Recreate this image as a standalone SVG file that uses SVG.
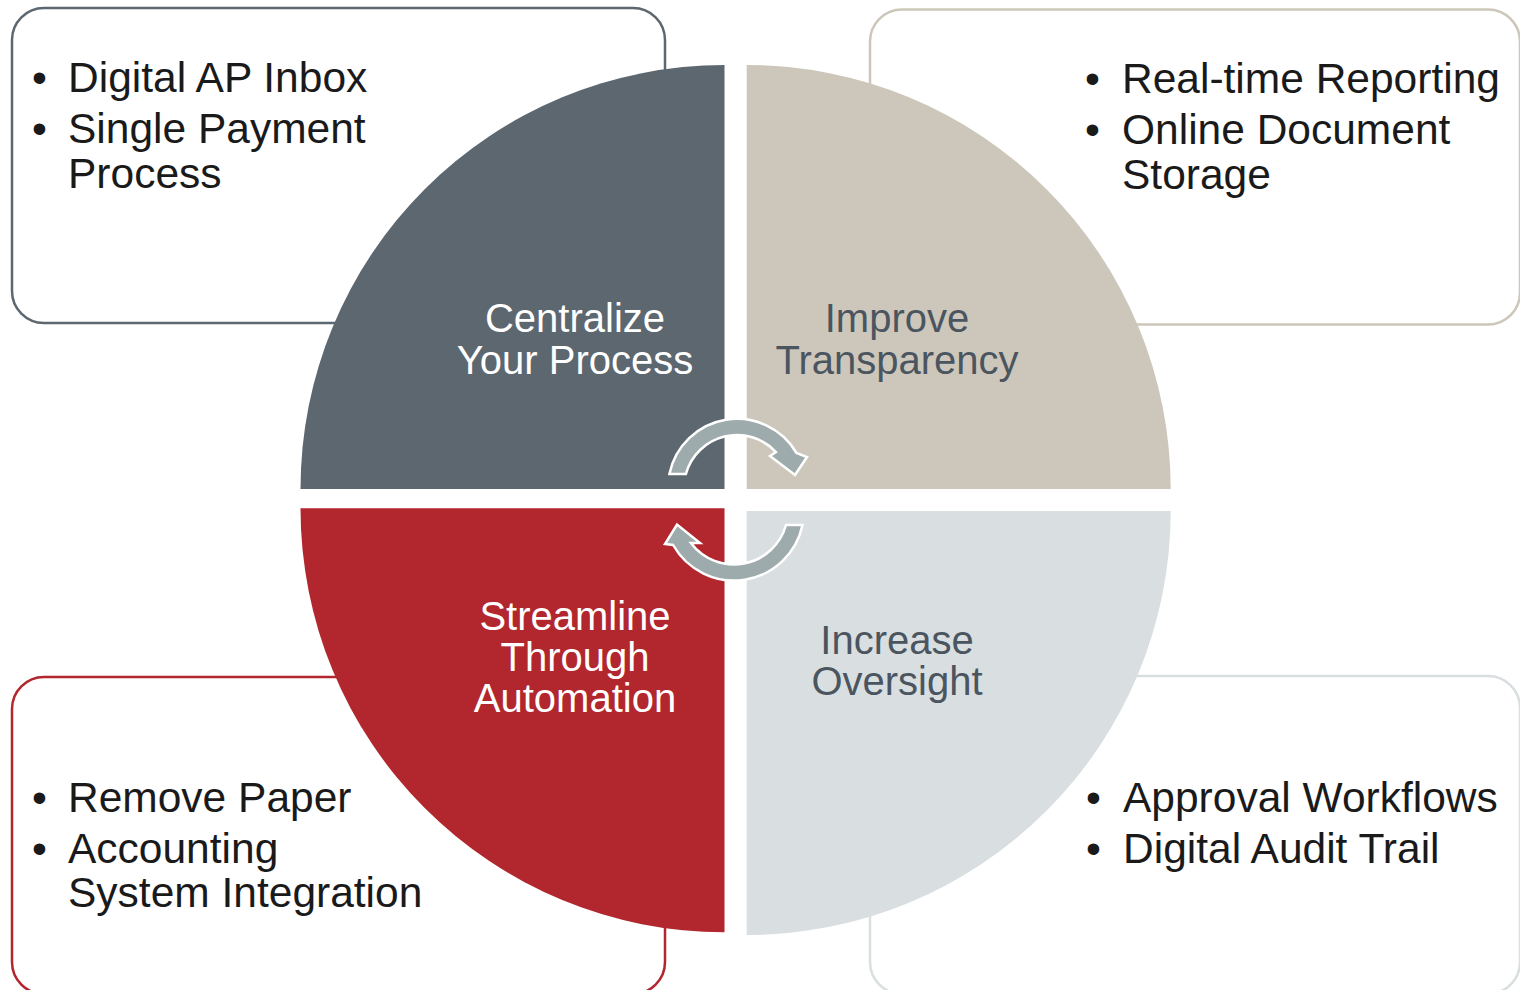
<svg xmlns="http://www.w3.org/2000/svg" width="1520" height="990" viewBox="0 0 1520 990">
  <style>
    .box { fill: #ffffff; stroke-width: 2.5; }
    .bul { font-family: "Liberation Sans", Arial, sans-serif; font-size: 42.5px; fill: #1a1a1a; }
    .lbl { font-family: "Liberation Sans", Arial, sans-serif; font-size: 40px; text-anchor: middle; }
    .arrow { fill: #9eabad; stroke: #ffffff; stroke-width: 2.5; stroke-linejoin: miter; }
  </style>
  <rect x="0" y="0" width="1520" height="990" fill="#ffffff"/>

  <g id="box-tl">
    <rect class="box" x="12" y="8" width="653" height="315" rx="32" ry="32" stroke="#5d6770"/>
    <text class="bul" x="32" y="92">•</text>
    <text class="bul" x="68" y="92">Digital AP Inbox</text>
    <text class="bul" x="32" y="143">•</text>
    <text class="bul" x="68" y="143">Single Payment</text>
    <text class="bul" x="68" y="188">Process</text>
  </g>

  <g id="box-tr">
    <rect class="box" x="870" y="9.5" width="650" height="315" rx="32" ry="32" stroke="#cdc7bb"/>
    <text class="bul" x="1085" y="93">•</text>
    <text class="bul" x="1122" y="93">Real-time Reporting</text>
    <text class="bul" x="1085" y="144">•</text>
    <text class="bul" x="1122" y="144">Online Document</text>
    <text class="bul" x="1122" y="189">Storage</text>
  </g>

  <g id="box-bl">
    <rect class="box" x="12" y="677" width="653" height="317" rx="32" ry="32" stroke="#b2262d"/>
    <text class="bul" x="32" y="812">•</text>
    <text class="bul" x="68" y="812">Remove Paper</text>
    <text class="bul" x="32" y="863">•</text>
    <text class="bul" x="68" y="863">Accounting</text>
    <text class="bul" x="68" y="907">System Integration</text>
  </g>

  <g id="box-br">
    <rect class="box" x="870" y="676" width="650" height="318" rx="32" ry="32" stroke="#d9dee0"/>
    <text class="bul" x="1086" y="812">•</text>
    <text class="bul" x="1123" y="812">Approval Workflows</text>
    <text class="bul" x="1086" y="863">•</text>
    <text class="bul" x="1123" y="863">Digital Audit Trail</text>
  </g>

  <g id="q-centralize">
    <path d="M724.5,489 L300.5,489 A424,424 0 0 1 724.5,65 Z" fill="#5d6770"/>
    <text class="lbl" x="575" y="332" fill="#ffffff">Centralize</text>
    <text class="lbl" x="575" y="374" fill="#ffffff">Your Process</text>
  </g>

  <g id="q-transparency">
    <path d="M746.7,489 L746.7,65 A424,424 0 0 1 1170.7,489 Z" fill="#cdc7bb"/>
    <text class="lbl" x="897" y="332" fill="#4b5560">Improve</text>
    <text class="lbl" x="897" y="374" fill="#4b5560">Transparency</text>
  </g>

  <g id="q-streamline">
    <path d="M724.5,508.3 L724.5,932.3 A424,424 0 0 1 300.5,508.3 Z" fill="#b2262d"/>
    <text class="lbl" x="575" y="630" fill="#ffffff">Streamline</text>
    <text class="lbl" x="575" y="671" fill="#ffffff">Through</text>
    <text class="lbl" x="575" y="712" fill="#ffffff">Automation</text>
  </g>

  <g id="q-oversight">
    <path d="M746.7,511 L1170.7,511 A424,424 0 0 1 746.7,935 Z" fill="#d9dee0"/>
    <text class="lbl" x="897" y="654" fill="#4b5560">Increase</text>
    <text class="lbl" x="897" y="695" fill="#4b5560">Oversight</text>
  </g>

  <g id="connectors">
    <path class="arrow" d="M669.4,474 A69,69 0 0 1 796.5,453 L807,457 L795,475 L770,456 L775.9,452 A53,53 0 0 0 685.9,474 Z"/>
    <path class="arrow" d="M786,525 L802.5,525 A70,70 0 0 1 673.1,545 L665,544 L677,524.5 L700,543 L690.9,543 A54,54 0 0 0 786,525 Z"/>
  </g>
</svg>
